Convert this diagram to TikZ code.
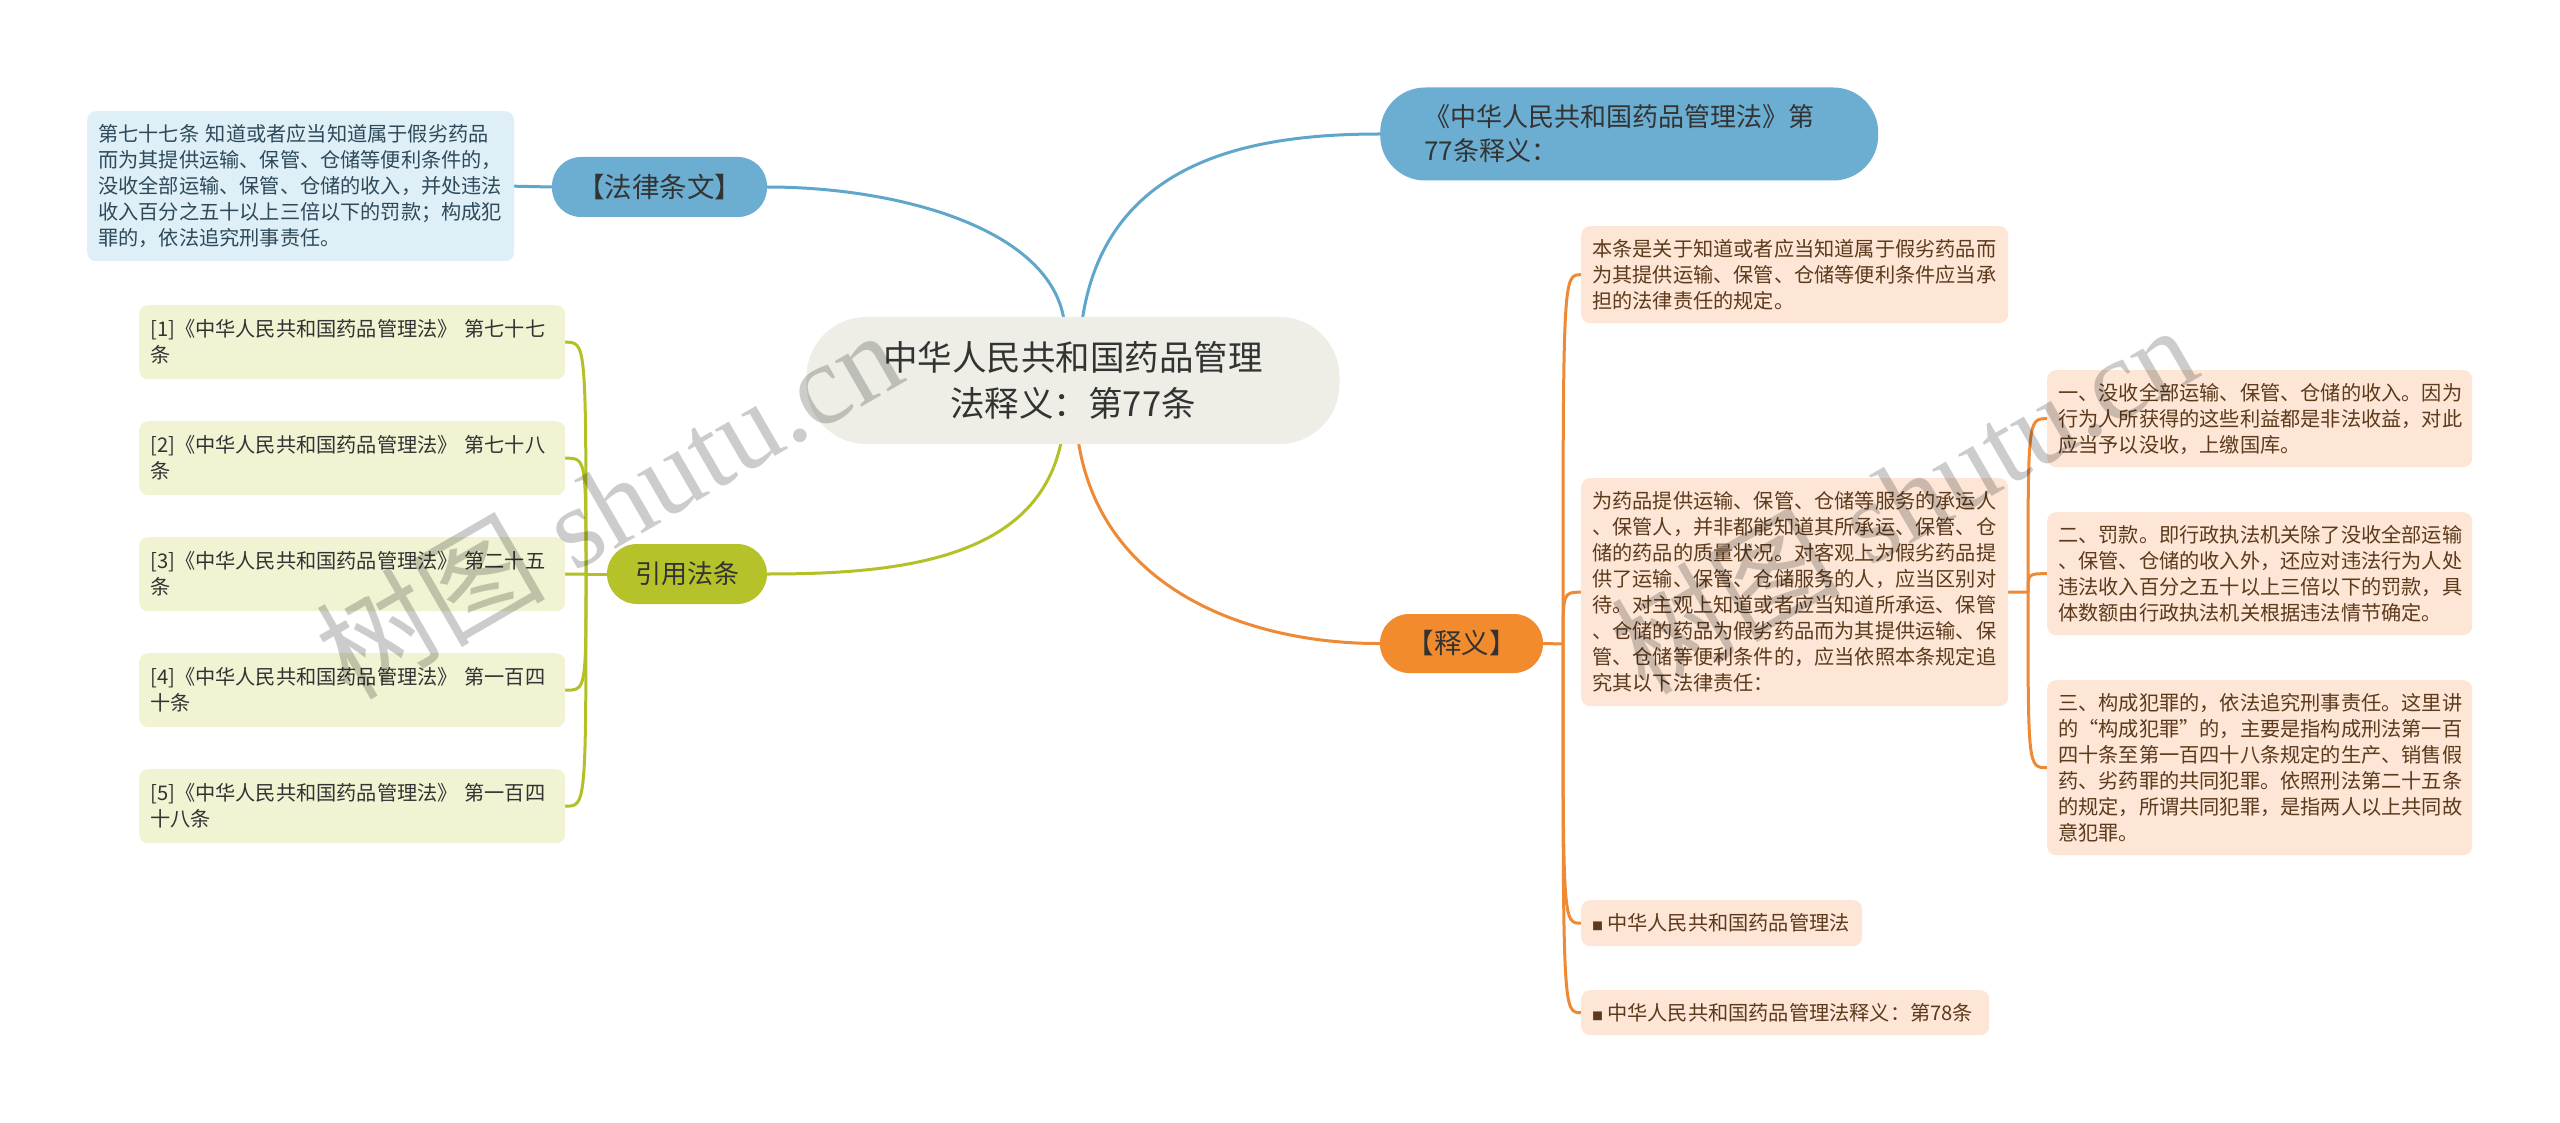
\documentclass[tikz,border=0pt]{standalone}
\usepackage{fontspec}
\setmainfont{Noto Sans CJK SC}
\newfontfamily\wmlatin{Liberation Serif}
\usetikzlibrary{calc}
\pgfdeclarelayer{background}
\pgfsetlayers{background,main}
\definecolor{cblue}{HTML}{6BAED1}
\definecolor{cbluel}{HTML}{5FA6CB}
\definecolor{lbfill}{HTML}{DFEFF8}
\definecolor{lbtext}{HTML}{2E4A5A}
\definecolor{cgreen}{HTML}{B5C22A}
\definecolor{cgreenl}{HTML}{B3C127}
\definecolor{gfill}{HTML}{F1F3D3}
\definecolor{corange}{HTML}{F28B2E}
\definecolor{oline}{HTML}{EE8A35}
\definecolor{pfill}{HTML}{FDE6D6}
\definecolor{ptext}{HTML}{5C3A1C}
\definecolor{cfill}{HTML}{EEEEE6}
\definecolor{dtext}{HTML}{333333}
\tikzset{
  conn/.style={line width=3pt, line cap=round},
  bconn/.style={conn, draw=cbluel},
  gconn/.style={conn, draw=cgreenl},
  oconn/.style={conn, draw=oline},
  pill/.style={rounded corners=#1, inner sep=0pt, align=center, text=dtext},
  box/.style={anchor=north west, rounded corners=9pt, inner xsep=11pt, inner ysep=0pt, align=left, font=\fontsize{20.2}{26}\selectfont},
  lbox/.style={box, fill=lbfill, text=lbtext},
  gbox/.style={box, fill=gfill, text=dtext},
  pbox/.style={box, fill=pfill, text=ptext},
  wm/.style={anchor=base west, rotate=30, text=black, text opacity=0.2, inner sep=0pt, font=\fontsize{115}{115}\selectfont},
}
\newcommand{\sqbullet}{{\fontsize{11}{11}\selectfont ■}\kern4pt}
\begin{document}
\begin{tikzpicture}[x=1pt,y=-1pt]
\begin{pgfonlayer}{background}
\fill[white] (0,0) rectangle (2560,1123);
\end{pgfonlayer}
\useasboundingbox (0,0) rectangle (2560,1123);

% main nodes
\node[pill=60pt, fill=cfill, minimum width=533pt, minimum height=127pt, font=\fontsize{34.5}{46}\selectfont] (c) at (1073,380.5) {中华人民共和国药品管理\\法释义：第77条};
\node[pill=29pt, fill=cblue, minimum width=215pt, minimum height=60pt, font=\fontsize{27.5}{32}\selectfont] (f) at (659.5,187) {【法律条文】};
\node[pill=45pt, fill=cblue, anchor=west, minimum height=93pt, text width=410pt, inner xsep=44pt, align=left, font=\fontsize{26}{34}\selectfont] (t) at (1380,134) {《中华人民共和国药品管理法》第\\77条释义：};
\node[pill=29pt, fill=corange, minimum width=163pt, minimum height=59pt, font=\fontsize{27.5}{32}\selectfont] (s) at (1461.5,643.5) {【释义】};
\node[pill=30pt, fill=cgreen, minimum width=160pt, minimum height=60pt, font=\fontsize{26}{32}\selectfont] (y) at (687,574) {引用法条};

% legal text
\node[lbox, text width=405pt, minimum height=150pt] (lb) at (87,111) {第七十七条~知道或者应当知道属于假劣药品\\而为其提供运输、保管、仓储等便利条件的，\\没收全部运输、保管、仓储的收入，并处违法\\收入百分之五十以上三倍以下的罚款；构成犯\\罪的，依法追究刑事责任。};

% cited articles
\node[gbox, text width=404pt, minimum height=74pt] (l1) at (139,305) {[1]《中华人民共和国药品管理法》~第七十七\\条};
\node[gbox, text width=404pt, minimum height=74pt] (l2) at (139,421) {[2]《中华人民共和国药品管理法》~第七十八\\条};
\node[gbox, text width=404pt, minimum height=74pt] (l3) at (139,537) {[3]《中华人民共和国药品管理法》~第二十五\\条};
\node[gbox, text width=404pt, minimum height=74pt] (l4) at (139,653) {[4]《中华人民共和国药品管理法》~第一百四\\十条};
\node[gbox, text width=404pt, minimum height=74pt] (l5) at (139,769) {[5]《中华人民共和国药品管理法》~第一百四\\十八条};

% interpretation
\node[pbox, text width=405pt, minimum height=97pt] (r1) at (1581,226) {本条是关于知道或者应当知道属于假劣药品而\\为其提供运输、保管、仓储等便利条件应当承\\担的法律责任的规定。};
\node[pbox, text width=405pt, minimum height=228pt] (r2) at (1581,478) {为药品提供运输、保管、仓储等服务的承运人\\、保管人，并非都能知道其所承运、保管、仓\\储的药品的质量状况。对客观上为假劣药品提\\供了运输、保管、仓储服务的人，应当区别对\\待。对主观上知道或者应当知道所承运、保管\\、仓储的药品为假劣药品而为其提供运输、保\\管、仓储等便利条件的，应当依照本条规定追\\究其以下法律责任：};
\node[pbox, text width=259pt, minimum height=46pt] (r3) at (1581,900) {\sqbullet 中华人民共和国药品管理法};
\node[pbox, text width=386pt, minimum height=45pt] (r4) at (1581,990) {\sqbullet 中华人民共和国药品管理法释义：第78条};

\node[pbox, text width=403pt, minimum height=97pt] (b1) at (2047,370) {一、没收全部运输、保管、仓储的收入。因为\\行为人所获得的这些利益都是非法收益，对此\\应当予以没收，上缴国库。};
\node[pbox, text width=403pt, minimum height=123pt] (b2) at (2047,512) {二、罚款。即行政执法机关除了没收全部运输\\、保管、仓储的收入外，还应对违法行为人处\\违法收入百分之五十以上三倍以下的罚款，具\\体数额由行政执法机关根据违法情节确定。};
\node[pbox, text width=403pt, minimum height=175pt] (b3) at (2047,680) {三、构成犯罪的，依法追究刑事责任。这里讲\\的“构成犯罪”的，主要是指构成刑法第一百\\四十条至第一百四十八条规定的生产、销售假\\药、劣药罪的共同犯罪。依照刑法第二十五条\\的规定，所谓共同犯罪，是指两人以上共同故\\意犯罪。};

% junction points
\coordinate (yj) at (586,574);
\coordinate (sj) at (1563,644);
\coordinate (rj) at (2028,592);

\begin{pgfonlayer}{background}
\draw[bconn] ($(c.north)+(-8,13)$) .. controls (1060,230) and (900,187) .. (f.east);
\draw[bconn] ($(c.north)+(8,13)$) .. controls (1100,160) and (1250,134) .. (t.west);
\draw[gconn] ($(c.south)+(-10,-13)$) .. controls (1045,560) and (900,574) .. (y.east);
\draw[oconn] ($(c.south)+(4,-13)$) .. controls (1095,590) and (1250,644) .. (s.west);
\draw[bconn] (f.west) -- (lb.east);
\draw[gconn] (y.west) -- (yj);
\foreach \n in {l1,l2,l3,l4,l5}{
  \draw[gconn] (yj) .. controls (yj |- \n.east) .. (\n.east);
}
\draw[oconn] (s.east) -- (sj);
\foreach \n in {r1,r2,r3,r4}{
  \draw[oconn] (sj) .. controls (sj |- \n.west) .. (\n.west);
}
\draw[oconn] (r2.east) -- (rj);
\foreach \n in {b1,b2,b3}{
  \draw[oconn] (rj) .. controls (rj |- \n.west) .. (\n.west);
}
\end{pgfonlayer}

% watermark
\node[wm] (wm1) at (350,702) {树图\wmlatin~shutu.cn};
\node[wm] (wm2) at (1645,697) {树图\wmlatin~shutu.cn};
\end{tikzpicture}
\end{document}
